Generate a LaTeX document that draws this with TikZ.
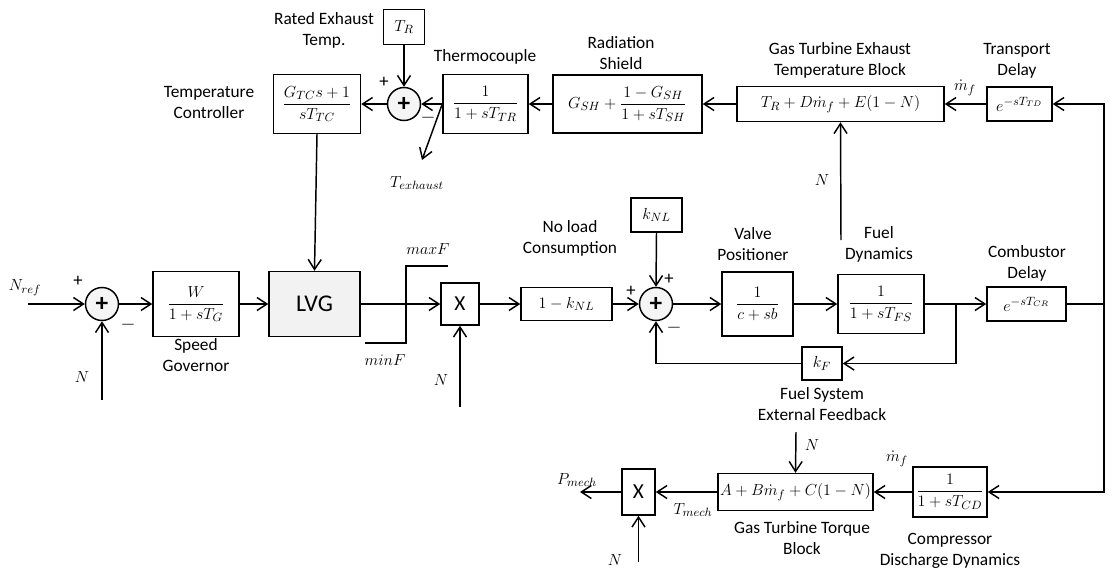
\documentclass[tikz,border=0pt]{standalone}
\usepackage{fontspec}
\setmainfont{Carlito}
\usepackage{amsmath}
\usepackage{tikz}
\usepackage{xcolor}
\usetikzlibrary{arrows.meta, positioning}
\definecolor{boxfill}{HTML}{F2F2F2}
\definecolor{sumfill}{HTML}{F5F5F5}
\tikzstyle{block} = [rectangle, draw=black, line width=1.1pt, inner sep=0pt, text centered]
\tikzstyle{sumnode} = [circle, draw=black, line width=1.1pt, fill=sumfill, minimum size=24.75pt, inner sep=0pt, font=\fontsize{19}{19}\selectfont\bfseries]
\tikzstyle{lbl} = [align=center, inner sep=0pt]
\tikzstyle{sign} = [inner sep=0pt, font=\fontsize{14}{14}\selectfont]
\tikzstyle{arrow} = [line width=1.1pt, -{Straight Barb[length=7.5pt, width=9.75pt]}]
\tikzstyle{wire} = [line width=1.1pt]

\begin{document}
\begin{tikzpicture}[x=0.75pt, y=-0.75pt, font=\fontsize{13}{15.75}\selectfont]
        \useasboundingbox (0,0) rectangle (1115,569);

        \node[block, minimum width=65.25pt, minimum height=44.25pt] (tc) at (317,104) {$\dfrac{G_{TC}s+1}{sT_{TC}}$};
        \node[block, minimum width=30.75pt, minimum height=26.25pt] (tr) at (404,27) {$T_R$};
        \node[sumnode] (sumT) at (404,104) {+};
        \node[block, minimum width=63.75pt, minimum height=44.25pt] (thermo) at (485.5,104) {$\dfrac{1}{1+sT_{TR}}$};
        \node[block, minimum width=111.75pt, minimum height=43.5pt] (shield) at (627.5,104) {$G_{SH}+\dfrac{1-G_{SH}}{1+sT_{SH}}$};
        \node[block, minimum width=155.25pt, minimum height=26.25pt] (exh) at (840.5,104) {$T_R+D\dot{m}_f+E(1-N)$};
        \node[block, minimum width=48.75pt, minimum height=25.5pt] (td) at (1019.5,104) {$e^{-sT_{TD}}$};

        \node[sumnode] (sumN) at (102,304) {+};
        \node[block, minimum width=64.5pt, minimum height=48.75pt] (gov) at (196,304) {$\dfrac{W}{1+sT_G}$};
        \node[block, fill=boxfill, minimum width=68.25pt, minimum height=48.75pt, font=\fontsize{18}{20}\selectfont] (lvg) at (314.5,304) {LVG};
        \node[block, minimum width=28.5pt, minimum height=31.5pt, font=\fontsize{16}{18}\selectfont] (prodF) at (460,304) {X};
        \node[block, minimum width=68.25pt, minimum height=24.75pt] (nl) at (566.5,304) {$1-k_{NL}$};
        \node[sumnode] (sumF) at (656,304) {+};
        \node[block, minimum width=38.25pt, minimum height=25.5pt] (knl) at (656.5,215) {$k_{NL}$};
        \node[block, minimum width=53.25pt, minimum height=48pt] (valve) at (757.5,304) {$\dfrac{1}{c+sb}$};
        \node[block, minimum width=64.5pt, minimum height=44.25pt] (fuel) at (881,304) {$\dfrac{1}{1+sT_{FS}}$};
        \node[block, minimum width=30pt, minimum height=24.75pt] (kf) at (822,363.5) {$k_F$};
        \node[block, minimum width=59.25pt, minimum height=25.5pt] (comb) at (1026.5,304) {$e^{-sT_{CR}}$};

        \node[block, minimum width=55.5pt, minimum height=37.5pt] (cd) at (950,492) {$\dfrac{1}{1+sT_{CD}}$};
        \node[block, minimum width=116.25pt, minimum height=27.75pt] (torque) at (795.5,492) {$A+B\dot{m}_f+C(1-N)$};
        \node[block, minimum width=24.75pt, minimum height=34.5pt, font=\fontsize{16}{18}\selectfont] (prodP) at (638.5,492) {X};

        \node[lbl] (lblRated) at (324,30.5) {Rated Exhaust\\Temp.};
        \node[lbl] (lblTC) at (209,102.5) {Temperature\\Controller};
        \node[lbl] (lblThermo) at (485,57) {Thermocouple};
        \node[lbl] (lblShield) at (621,53) {Radiation\\Shield};
        \node[lbl] (lblExh) at (840,60.5) {Gas Turbine Exhaust\\Temperature Block};
        \node[lbl] (lblTD) at (1017,60.5) {Transport\\Delay};
        \node[lbl] (lblGov) at (196,355) {Speed\\Governor};
        \node[lbl] (lblNL) at (570,238) {No load\\Consumption};
        \node[lbl] (lblValve) at (753,244.5) {Valve\\Positioner};
        \node[lbl] (lblFuel) at (879,244.5) {Fuel\\Dynamics};
        \node[lbl] (lblComb) at (1027,263.5) {Combustor\\Delay};
        \node[lbl] (lblKF) at (822,404.5) {Fuel System\\External Feedback};
        \node[lbl] (lblTorque) at (802,538.5) {Gas Turbine Torque\\Block};
        \node[lbl] (lblCD) at (950,551) {Compressor\\Discharge Dynamics};

        \node[lbl] (lblTex) at (417,183) {$T_{exhaust}$};
        \node[lbl] (lblNref) at (25,288) {$N_{ref}$};
        \node[lbl] (lblNsum) at (82,377) {$N$};
        \node[lbl] (lblMax) at (428,249) {$maxF$};
        \node[lbl] (lblMin) at (385,360) {$minF$};
        \node[lbl] (lblNprod) at (441,380) {$N$};
        \node[lbl] (lblNexh) at (822,180) {$N$};
        \node[lbl] (lblMdotT) at (965,88) {$\dot{m}_f$};
        \node[lbl] (lblMdotB) at (897,459) {$\dot{m}_f$};
        \node[lbl] (lblNtq) at (812,445) {$N$};
        \node[lbl] (lblTmech) at (693,510) {$T_{mech}$};
        \node[lbl] (lblPmech) at (577,480) {$P_{mech}$};
        \node[lbl] (lblNout) at (615,560) {$N$};

        \node[sign] at (384,82) {+};
        \node[sign] at (428,118) {$-$};
        \node[sign] at (78,281) {+};
        \node[sign] at (128,325) {$-$};
        \node[sign] at (631,291) {+};
        \node[sign] at (669,279) {+};
        \node[sign] at (674,328) {$-$};

        \coordinate (tex) at (422,160);
        \coordinate (nExh) at (841,240);
        \coordinate (rj) at (1104,304);
        \coordinate (nref) at (28,304);
        \coordinate (nSum) at (102,400);
        \coordinate (nProd) at (460,407);
        \coordinate (fb) at (956,304);
        \coordinate (nTq) at (796,432);
        \coordinate (pmech) at (580,492);
        \coordinate (nOut) at (638.5,562);

        \draw[arrow] (td.west) -- (exh.east);
        \draw[arrow] (exh.west) -- (shield.east);
        \draw[arrow] (shield.west) -- (thermo.east);
        \draw[arrow] (thermo.west) -- (sumT.east);
        \draw[arrow] (tr.south) -- (sumT.north);
        \draw[arrow] (sumT.west) -- (tc.east);
        \draw[arrow] (thermo.west) -- (tex);
        \draw[arrow] (nExh) -- (exh.south);
        \draw[arrow] (tc.south) -- (lvg.north);

        \draw[arrow] (nref) -- (sumN.west);
        \draw[arrow] (nSum) -- (sumN.south);
        \draw[arrow] (sumN.east) -- (gov.west);
        \draw[arrow] (gov.east) -- (lvg.west);
        \draw[arrow] (lvg.east) -- (prodF.west);
        \draw[wire] (448,266) -- (406,266) -- (406,343) -- (365,343);
        \draw[arrow] (nProd) -- (prodF.south);
        \draw[arrow] (prodF.east) -- (nl.west);
        \draw[arrow] (nl.east) -- (sumF.west);
        \draw[arrow] (knl.south) -- (sumF.north);
        \draw[arrow] (sumF.east) -- (valve.west);
        \draw[arrow] (valve.east) -- (fuel.west);
        \draw[arrow] (fuel.east) -- (comb.west);
        \draw[arrow] (fb) |- (kf.east);
        \draw[arrow] (kf.west) -| (sumF.south);

        \draw[wire] (comb.east) -- (rj);
        \draw[arrow] (rj) |- (td.east);
        \draw[arrow] (rj) |- (cd.east);
        \draw[arrow] (cd.west) -- (torque.east);
        \draw[arrow] (nTq) -- (torque.north);
        \draw[arrow] (torque.west) -- (prodP.east);
        \draw[arrow] (prodP.west) -- (pmech);
        \draw[arrow] (nOut) -- (prodP.south);
    \end{tikzpicture}
\end{document}
